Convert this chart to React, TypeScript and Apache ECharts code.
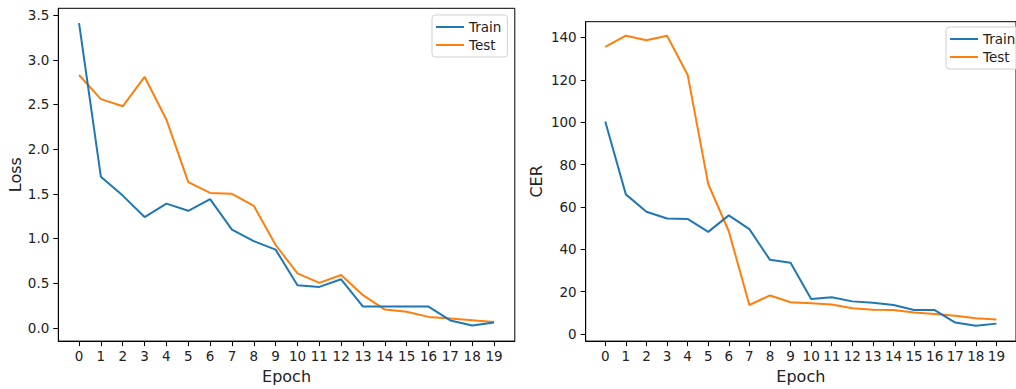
import React, { useEffect, useRef } from "react";
import * as echarts from "echarts";

const epochs = [0, 1, 2, 3, 4, 5, 6, 7, 8, 9, 10, 11, 12, 13, 14, 15, 16, 17, 18, 19];
const lossTrain = [3.41, 1.69, 1.48, 1.24, 1.39, 1.31, 1.44, 1.10, 0.97, 0.875, 0.476, 0.458, 0.543, 0.237, 0.237, 0.237, 0.237, 0.082, 0.026, 0.06];
const lossTest = [2.83, 2.56, 2.48, 2.81, 2.33, 1.63, 1.51, 1.50, 1.366, 0.927, 0.609, 0.503, 0.591, 0.365, 0.204, 0.18, 0.122, 0.104, 0.085, 0.066];
const cerTrain = [100.3, 65.9, 57.7, 54.5, 54.3, 48.2, 56.0, 49.5, 35.0, 33.6, 16.5, 17.3, 15.4, 14.8, 13.7, 11.3, 11.3, 5.4, 3.9, 4.9];
const cerTest = [135.5, 140.8, 138.6, 140.8, 122.4, 70.8, 48.5, 13.7, 18.2, 15.0, 14.5, 13.9, 12.2, 11.4, 11.3, 10.2, 9.4, 8.6, 7.4, 6.9];
const lossTicks = [0, 0.5, 1, 1.5, 2, 2.5, 3, 3.5];
const cerTicks = [0, 20, 40, 60, 80, 100, 120, 140];
const seriesNames = ["Train", "Test"];

const BLUE = "#1f77b4";
const ORANGE = "#ff7f0e";
const FONT = "DejaVu Sans";
const TXT = "#222";

export default function App() {
  const ref = useRef<HTMLDivElement>(null);
  useEffect(() => {
    if (!ref.current) return;
    const chart = echarts.init(ref.current, undefined, { renderer: "svg" });
    const xAxisBase = (gridIndex: number) => ({
      type: "value",
      gridIndex,
      min: -0.95,
      max: 19.95,
      name: "Epoch",
      nameLocation: "middle",
      nameGap: 26,
      nameTextStyle: { fontFamily: FONT, fontSize: 16, color: TXT },
      axisLine: { show: true, onZero: false, lineStyle: { color: "#000", width: 1 } },
      axisTick: { show: true, length: 5, customValues: epochs, lineStyle: { color: "#000" } },
      axisLabel: {
        customValues: epochs,
        fontFamily: FONT,
        fontSize: 13.5,
        color: TXT,
        margin: 8,
        formatter: (v: number) => String(v),
      },
      splitLine: { show: false },
    });
    const yAxisBase = (gridIndex: number, name: string, min: number, max: number, ticks: number[], fmt: (v: number) => string, gap: number) => ({
      type: "value",
      gridIndex,
      min,
      max,
      name,
      nameLocation: "middle",
      nameGap: gap,
      nameTextStyle: { fontFamily: FONT, fontSize: 16, color: TXT },
      axisLine: { show: true, onZero: false, lineStyle: { color: "#000", width: 1 } },
      axisTick: { show: true, length: 5, customValues: ticks, lineStyle: { color: "#000" } },
      axisLabel: { customValues: ticks, fontFamily: FONT, fontSize: 13.5, color: TXT, margin: 9, formatter: fmt },
      splitLine: { show: false },
    });
    const mkSeries = (name: string, data: number[], color: string, idx: number) => ({
      type: "line",
      name,
      xAxisIndex: idx,
      yAxisIndex: idx,
      data: epochs.map((e, i) => [e, data[i]]),
      showSymbol: false,
      symbol: "none",
      lineStyle: { color, width: 2 },
      itemStyle: { color },
      z: name === "Train" ? 3 : 2,
    });
    const legendBase = (left: number, top: number) => ({
      orient: "vertical",
      left,
      top,
      data: seriesNames,
      icon: "rect",
      itemWidth: 28,
      itemHeight: 2,
      itemGap: 4,
      padding: [5, 6, 5, 4],
      backgroundColor: "rgba(255,255,255,0.8)",
      borderColor: "#d0d0d0",
      borderWidth: 1,
      borderRadius: 3,
      selectedMode: false,
      textStyle: { fontFamily: FONT, fontSize: 13.5, color: TXT, lineHeight: 14 },
    });
    chart.setOption({
      animation: false,
      backgroundColor: "#fff",
      grid: [
        { left: 58.3, top: 8.3, width: 456.5, height: 336.7, show: true, borderColor: "#000", borderWidth: 1, backgroundColor: "transparent" },
        { left: 585.7, top: 21.7, width: 440.4, height: 325, show: true, borderColor: "#000", borderWidth: 1, backgroundColor: "transparent" },
      ],
      legend: [legendBase(432, 15), legendBase(946, 27)],
      xAxis: [xAxisBase(0), xAxisBase(1)],
      yAxis: [
        yAxisBase(0, "Loss", -0.149, 3.577, lossTicks, (v: number) => v.toFixed(1), 35),
        yAxisBase(1, "CER", -3.35, 147.4, cerTicks, (v: number) => String(v), 41),
      ],
      series: [
        mkSeries("Train", lossTrain, BLUE, 0),
        mkSeries("Test", lossTest, ORANGE, 0),
        mkSeries("Train", cerTrain, BLUE, 1),
        mkSeries("Test", cerTest, ORANGE, 1),
      ],
    });
    return () => chart.dispose();
  }, []);
  return <div ref={ref} style={{ position: "fixed", left: 0, top: 0, width: 1016, height: 389 }} />;
}
